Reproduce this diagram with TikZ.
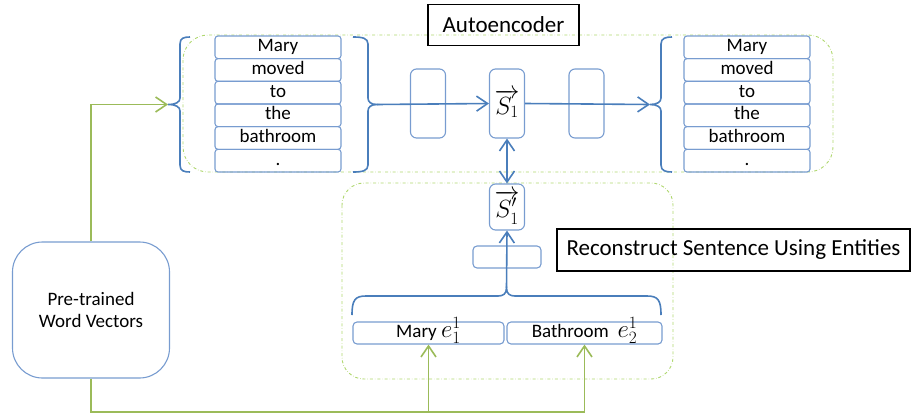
\documentclass[tikz,border=0pt]{standalone}
\usepackage{fontspec}
\setmainfont{Carlito}
\usetikzlibrary{positioning, arrows.meta, calc}

\definecolor{lineblue}{RGB}{74,126,187}
\definecolor{boxblue}{RGB}{120,156,208}
\definecolor{wordgreen}{RGB}{155,187,89}
\definecolor{groupgreen}{RGB}{175,215,110}

\newcommand{\entvec}[1]{{\fontsize{23}{24}\selectfont$#1$}}

\begin{document}
\begin{tikzpicture}[x=1pt, y=-1pt,
  wordbox/.style={draw=boxblue, line width=1.1pt, rounded corners=3pt, minimum width=126pt,
    minimum height=22.7pt, inner sep=0pt, text height=13pt, text depth=4pt,
    font=\fontsize{19}{22}\selectfont},
  layerbox/.style={draw=boxblue, line width=1.1pt, rounded corners=6pt, minimum width=35pt,
    inner sep=0pt, font=\fontsize{25}{26}\selectfont},
  entbox/.style={draw=boxblue, line width=1.1pt, rounded corners=4pt, minimum height=22pt,
    inner sep=0pt, text height=13pt, text depth=4pt, font=\fontsize{19}{22}\selectfont},
  titlebox/.style={draw=black, line width=1.2pt, inner sep=0pt,
    font=\fontsize{23}{26}\selectfont},
  group/.style={draw=groupgreen, dash dot, line width=0.9pt, rounded corners=25pt},
  bracepen/.style={draw=lineblue, line width=1.6pt},
  bluearrow/.style={draw=lineblue, line width=1.6pt,
    -{Straight Barb[length=11pt, width=15pt]}},
  greenarrow/.style={draw=wordgreen, line width=1.6pt,
    -{Straight Barb[length=11pt, width=15pt]}},
]
\useasboundingbox (0,0) rectangle (913,418);

% dash-dot groups
\draw[group] (183,35) rectangle (833,172);
\draw[group, rounded corners=22pt] (342,183) rectangle (673,379);

% titles
\node[titlebox, minimum width=151pt, minimum height=41pt] (autotitle) at (503.5,25) {Autoencoder};
\node[titlebox, minimum width=353pt, minimum height=42pt] (rectitle) at (733.5,250) {Reconstruct Sentence Using Entities};

% input and output sentences
\foreach \w [count=\i] in {Mary,moved,to,the,bathroom,.} {
  \node[wordbox] (lw\i) at (278, {47.3+22.67*(\i-1)}) {\w};
  \node[wordbox] (rw\i) at (747, {47.3+22.67*(\i-1)}) {\w};
}

% encoder / sentence vector / decoder
\node[layerbox, minimum height=69pt] (enc) at (428,103.5) {};
\node[layerbox, minimum height=69pt] (s1) at (507,103.5) {$\overrightarrow{S_1}$};
\node[layerbox, minimum height=69pt] (dec) at (586.5,103.5) {};
\node[layerbox, minimum height=46pt] (s1p) at (507,207) {$\overrightarrow{S'_1}$};
\node[layerbox, rounded corners=4pt, minimum width=68pt, minimum height=22pt] (hid) at (507,257) {};

% entities
\node[entbox, minimum width=151pt] (ent1) at (428.5,333) {Mary \entvec{e_1^1}};
\node[entbox, minimum width=155pt] (ent2) at (584.5,333) {Bathroom~~\entvec{e_2^1}};

\node[draw=boxblue, line width=1.1pt, rounded corners=30pt, minimum width=157pt, minimum height=136pt,
  align=center, font=\fontsize{19}{22}\selectfont] (pre) at (91,310) {Pre-trained\\Word Vectors};

% braces
\draw[bracepen] (190,37) .. controls (184,37) and (180,38) .. (180,44) -- (180,98)
  .. controls (180,102) and (176,104.5) .. (168,104.5)
  .. controls (176,104.5) and (180,107) .. (180,111) -- (180,165)
  .. controls (180,171) and (184,172) .. (190,172);
\draw[bracepen] (353,37) .. controls (362,37) and (368,38) .. (368,44) -- (368,98)
  .. controls (368,102) and (371,104.5) .. (377,104.5)
  .. controls (371,104.5) and (368,107) .. (368,111) -- (368,165)
  .. controls (368,171) and (362,172) .. (353,172);
\draw[bracepen] (672,37) .. controls (666,37) and (661,38) .. (661,44) -- (661,98)
  .. controls (661,102) and (657,104.5) .. (650,104.5)
  .. controls (657,104.5) and (661,107) .. (661,111) -- (661,165)
  .. controls (661,171) and (666,172) .. (672,172);
\draw[bracepen] (352,315) .. controls (352,300) and (355,296) .. (366,296)
  -- (498,296) .. controls (503,296) and (506.5,294) .. (506.5,288)
  .. controls (506.5,294) and (510,296) .. (515,296)
  -- (647,296) .. controls (658,296) and (661,300) .. (661,315);

\coordinate (lbtip) at (168,104.5);
\coordinate (encin) at (377,104.5);
\coordinate (rbtip) at (650,104.5);
\coordinate (entstip) at (506.5,288);
\coordinate (gbot) at (91,412);

% connectors
\draw[bluearrow] (encin) -- (s1.west);
\draw[bluearrow] (s1.east) -- (rbtip);
\draw[bluearrow, {Straight Barb[length=11pt, width=15pt]}-{Straight Barb[length=11pt, width=15pt]}] (s1.south) -- (s1p.north);
\draw[bluearrow] (entstip) -- (s1p.south);

\draw[greenarrow] (pre.north) |- (lbtip);
\draw[greenarrow] (pre.south) -- (gbot) -| (ent2.south);
\draw[greenarrow] (ent1.south |- gbot) -- (ent1.south);

\end{tikzpicture}
\end{document}
